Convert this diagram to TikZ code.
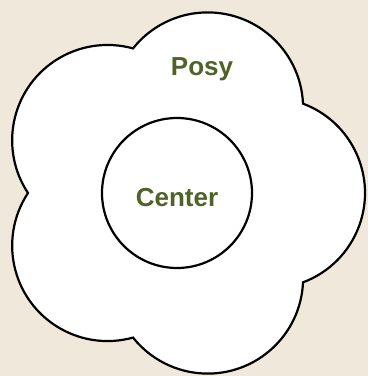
\documentclass[tikz,border=0pt]{standalone}
\usepackage{fontspec}
\setmainfont{Liberation Sans}
\definecolor{bgbeige}{RGB}{240,232,219}
\definecolor{olivetext}{RGB}{79,98,40}
\begin{document}
\begin{tikzpicture}[x=1pt,y=1pt,
  outline/.style={draw=black,line width=2.2pt,fill=white},
  label/.style={text=olivetext,font=\fontsize{26}{30}\selectfont\bfseries}]
\useasboundingbox (0,0) rectangle (368,376);
\fill[bgbeige] (0,0) rectangle (368,376);
\def\ang{69.5}
\def\lr{95.4}
\begin{scope}[shift={(180,183)}]
\path[outline,line join=miter] (180:152)
  arc[start angle=144+\ang, end angle=144-\ang, radius=\lr]
  arc[start angle=72+\ang, end angle=72-\ang, radius=\lr]
  arc[start angle=0+\ang, end angle=0-\ang, radius=\lr]
  arc[start angle=-72+\ang, end angle=-72-\ang, radius=\lr]
  arc[start angle=-144+\ang, end angle=-144-\ang, radius=\lr]
  -- cycle;
\end{scope}
\node[outline,circle,minimum size=150pt,inner sep=0pt] (center) at (177,183) {};
\node[label] (centertext) at (177,178) {Center};
\node[label] (posy) at (202,307) {Posy};
\end{tikzpicture}
\end{document}
